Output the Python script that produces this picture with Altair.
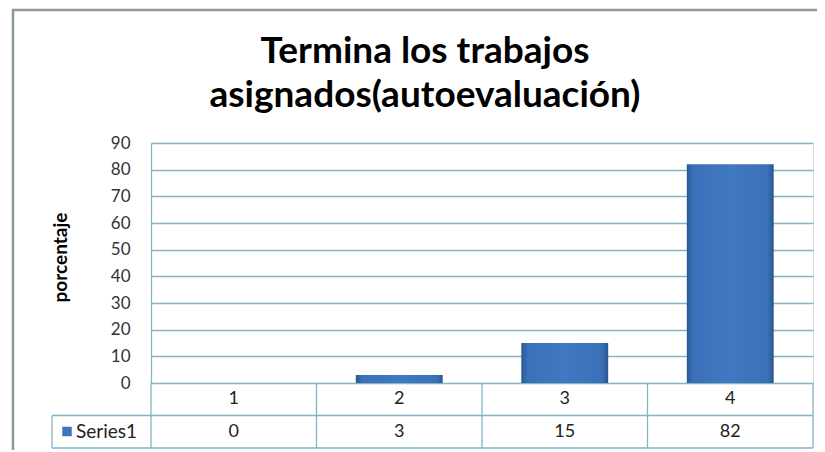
import altair as alt
import pandas as pd

categories = ["1", "2", "3", "4"]
values = [0, 3, 15, 82]
series_name = "Series1"
title_lines = ["Termina los trabajos", "asignados(autoevaluación)"]
y_title = "porcentaje"
y_ticks = [0, 10, 20, 30, 40, 50, 60, 70, 80, 90]

W, H = 662, 240
ROW = 32.5
GRID = "#86B3C2"
FONT = "Lato"
BLUE = "#3C73BE"

df = pd.DataFrame({"cat": categories, "value": values})
one = pd.DataFrame({"series": [series_name]})

xscale = alt.Scale(paddingInner=0, paddingOuter=0)

grad = alt.LinearGradient(
    gradient="linear",
    stops=[
        alt.GradientStop(offset=0, color="#2B5894"),
        alt.GradientStop(offset=0.07, color="#3A70B8"),
        alt.GradientStop(offset=0.5, color="#4079C2"),
        alt.GradientStop(offset=0.93, color="#3A70B8"),
        alt.GradientStop(offset=1, color="#2A5690"),
    ],
    x1=0, x2=1, y1=0, y2=0,
)

border = alt.Chart(one).mark_rect(fillOpacity=0, stroke="#8A979C", strokeWidth=2.5).encode(
    x=alt.value(-138), x2=alt.value(W + 60), y=alt.value(-133), y2=alt.value(H + 80)
)

bars = alt.Chart(df).mark_bar(width=alt.RelativeBandSize(0.525), color=grad).encode(
    x=alt.X("cat:N", sort=categories, scale=xscale, axis=None),
    y=alt.Y(
        "value:Q",
        scale=alt.Scale(domain=[0, 90], nice=False),
        axis=alt.Axis(
            values=y_ticks,
            title=y_title,
            grid=True,
            gridColor=GRID,
            gridWidth=1.3,
            domainColor=GRID,
            domainWidth=1.3,
            ticks=False,
            labelPadding=21,
            labelFont=FONT,
            labelFontSize=17,
            labelColor="#333333",
            titleFont=FONT,
            titleFontSize=19,
            titleFontWeight="bold",
            titleColor="black",
            titleX=-91,
            titleY=114,
            titleAngle=270,
            titleAlign="center",
            titleBaseline="middle",
        ),
    ),
)

hrule2 = alt.Chart(one).mark_rule(color=GRID, strokeWidth=1.3).encode(
    x=alt.value(-99), x2=alt.value(W), y=alt.value(H + 2 * ROW)
)
hrule1 = alt.Chart(one).mark_rule(color=GRID, strokeWidth=1.3).encode(
    x=alt.value(-99), x2=alt.value(W), y=alt.value(H + ROW)
)
vrules = alt.Chart(df).mark_rule(color=GRID, strokeWidth=1.3).encode(
    x=alt.X("cat:N", sort=categories, scale=xscale, bandPosition=0, axis=None),
    y=alt.value(H), y2=alt.value(H + 2 * ROW)
)
vright = alt.Chart(one).mark_rule(color=GRID, strokeWidth=1.3).encode(
    x=alt.value(W), y=alt.value(H), y2=alt.value(H + 2 * ROW)
)
vleft = alt.Chart(one).mark_rule(color=GRID, strokeWidth=1.3).encode(
    x=alt.value(-99), y=alt.value(H + ROW), y2=alt.value(H + 2 * ROW)
)

cat_text = alt.Chart(df).mark_text(font=FONT, fontSize=18, color="#222222", baseline="middle").encode(
    x=alt.X("cat:N", sort=categories, scale=xscale, axis=None),
    y=alt.value(H + 16),
    text="cat:N",
)
val_text = alt.Chart(df).mark_text(font=FONT, fontSize=18, color="#222222", baseline="middle").encode(
    x=alt.X("cat:N", sort=categories, scale=xscale, axis=None),
    y=alt.value(H + 48.5),
    text="value:Q",
)
legend_sq = alt.Chart(one).mark_square(size=90, color=BLUE, opacity=1).encode(
    x=alt.value(-84), y=alt.value(H + 48.5)
)
legend_txt = alt.Chart(one).mark_text(font=FONT, fontSize=19, color="#222222", align="left", baseline="middle").encode(
    x=alt.value(-75), y=alt.value(H + 48.5), text="series:N"
)

chart = alt.layer(
    border, bars, hrule1, hrule2, vrules, vright, vleft, cat_text, val_text, legend_sq, legend_txt
).properties(
    width=W,
    height=H,
    padding={"left": 143, "top": 135, "right": 4, "bottom": 67},
    autosize=alt.AutoSizeParams(type="none"),
    title=alt.Title(
        text=title_lines,
        font=FONT,
        fontSize=37,
        fontWeight="bold",
        lineHeight=44,
        anchor="middle",
        frame="group",
        dx=-57,
        offset=-106,
        color="black",
    ),
).configure_view(strokeWidth=0).configure(background="white")

chart.save("out.html", embed_options={"renderer": "svg", "actions": False})
